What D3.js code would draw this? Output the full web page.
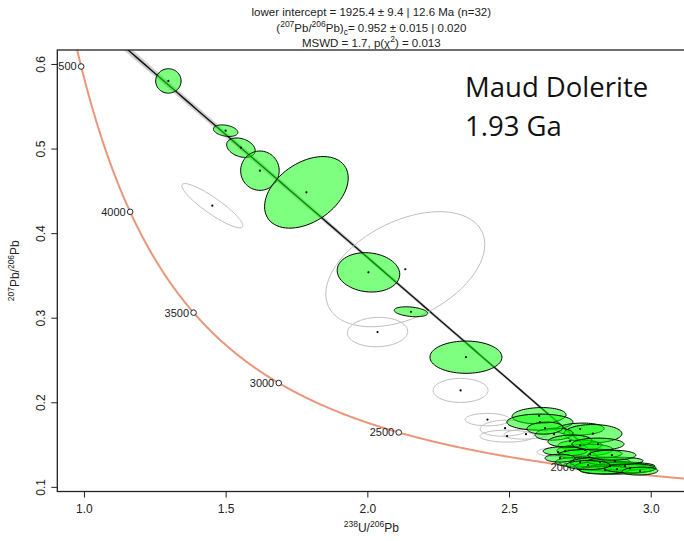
<!DOCTYPE html>
<html><head><meta charset="utf-8">
<script src="https://cdn.jsdelivr.net/npm/d3@7"></script>
<style>body{margin:0;background:#fff} svg{display:block}</style>
</head><body>
<svg id="chart" width="684" height="541"></svg>
<script>
// U-Pb analyses in Tera-Wasserburg space (1 sigma errors)
const u238pb206 = [1.298, 1.500, 1.554, 1.621, 1.785, 1.453, 2.134, 2.004, 2.154, 2.036, 2.348, 2.329,
  2.424, 2.486, 2.493, 2.560, 2.673,
  2.606, 2.609, 2.751, 2.796, 2.659, 2.751, 2.768, 2.698, 2.786, 2.751, 2.821, 2.856,
  2.881, 2.909, 2.839, 2.927, 2.715, 2.814, 2.874, 2.680, 2.627, 2.863, 2.962, 2.779];
const u238pb206Err = [0.0183, 0.0176, 0.0206, 0.0278, 0.0603, 0.0440, 0.1146, 0.0451, 0.0241, 0.0435, 0.0519, 0.0396,
  0.0324, 0.0360, 0.0389, 0.0317, 0.0303,
  0.0389, 0.0476, 0.0346, 0.0418, 0.0274, 0.0317, 0.0404, 0.0317, 0.0461, 0.0360, 0.0432, 0.0505,
  0.0548, 0.0432, 0.0360, 0.0375, 0.0317, 0.0375, 0.0404, 0.0216, 0.0259, 0.0346, 0.0259, 0.0317];
const pb207pb206 = [0.5799, 0.5211, 0.5010, 0.4738, 0.4482, 0.4324, 0.3573, 0.3536, 0.3070, 0.2830, 0.2533, 0.2140,
  0.1795, 0.1694, 0.1600, 0.1623, 0.1410,
  0.1842, 0.1765, 0.1683, 0.1629, 0.1623, 0.1493, 0.1434, 0.1422, 0.1387, 0.1292, 0.1292, 0.1245,
  0.1209, 0.1245, 0.1198, 0.1221, 0.1541, 0.1505, 0.1304, 0.1339, 0.1694, 0.1375, 0.1186, 0.1257];
const pb207pb206Err = [0.0059, 0.0028, 0.0047, 0.0095, 0.0173, 0.0107, 0.0278, 0.0095, 0.0024, 0.0071, 0.0078, 0.0058,
  0.0030, 0.0039, 0.0029, 0.0024, 0.0022,
  0.0039, 0.0039, 0.0029, 0.0044, 0.0029, 0.0024, 0.0029, 0.0022, 0.0024, 0.0024, 0.0024, 0.0024,
  0.0024, 0.0019, 0.0019, 0.0022, 0.0029, 0.0029, 0.0019, 0.0019, 0.0029, 0.0024, 0.0019, 0.0022];
const errCorr = [0.0, -0.3, -0.3, 0.0, 0.4, -0.9, 0.43, -0.1, -0.3, 0.05, 0.0, 0.0,
  0.0, 0.1, 0.0, 0.1, 0.0,
  0.1, 0.0, 0.1, 0.0, 0.1, 0.0, 0.1, 0.0, 0.1, 0.0, 0.1, 0.0,
  0.1, 0.0, 0.1, 0.0, 0.1, 0.0, 0.1, 0.0, 0.1, 0.0, 0.1, 0.0];
// 1 = used in the regression, 0 = omitted
const included = [1, 1, 1, 1, 1, 0, 0, 1, 1, 0, 1, 0,
  0, 0, 0, 0, 0,
  1, 1, 1, 1, 1, 1, 1, 1, 1, 1, 1, 1,
  1, 1, 1, 1, 1, 1, 1, 1, 1, 1, 1, 1];

const xTicks = [1.0, 1.5, 2.0, 2.5, 3.0];
const yTicks = [0.1, 0.2, 0.3, 0.4, 0.5, 0.6];
const ageMarks = [2000, 2500, 3000, 3500, 4000, 4500];

// regression results
const lowerInterceptAge = 1925.4, lowerInterceptErr = 9.4;
const commonPb = 0.952, commonPbErr = 0.015;

const xLim = [0.906, 3.122], yLim = [0.0945, 0.6165];

// decay constants (per Ma) and 238U/235U
const L238 = 1.55125e-4, L235 = 9.8485e-4, U85 = 137.818;
function tw(t) {
  const e8 = Math.exp(L238 * t) - 1, e5 = Math.exp(L235 * t) - 1;
  return [1 / e8, e5 / e8 / U85];
}

const svg = d3.select('#chart');
const box = {left: 57.3, right: 685.3, top: 50, bottom: 491.5};
const x = d3.scaleLinear().domain(xLim).range([box.left, box.right]);
const y = d3.scaleLinear().domain(yLim).range([box.bottom, box.top]);
const font = 'Liberation Sans, Arial, Helvetica, sans-serif';

svg.append('clipPath').attr('id', 'plotclip').append('rect')
  .attr('x', box.left).attr('y', box.top)
  .attr('width', box.right - box.left).attr('height', box.bottom - box.top);
const plot = svg.append('g').attr('clip-path', 'url(#plotclip)');

// discordia line from the common-Pb intercept down to the lower intercept
const [xL, yL] = tw(lowerInterceptAge);
const slope = (yL - commonPb) / xL;
const lineY = v => commonPb + slope * v;
// envelope: intercept error at x=0 and age error at the lower intercept
const t1 = tw(lowerInterceptAge + lowerInterceptErr / 2);
const sigL = Math.abs((t1[1] - yL) - slope * (t1[0] - xL));
const sig0 = commonPbErr / 2;
const halfW = v => Math.hypot(sig0 * (1 - v / xL), sigL * v / xL);
const xs = d3.range(0, 121).map(i => xLim[0] + (xL - xLim[0]) * i / 120);
const env = xs.map(v => [v, lineY(v) + halfW(v)]).concat(xs.slice().reverse().map(v => [v, lineY(v) - halfW(v)]));
plot.append('path').attr('d', d3.line().x(d => x(d[0])).y(d => y(d[1]))(env) + 'Z')
  .attr('fill', '#cfcfcf').attr('stroke', 'none');
plot.append('path').attr('d', d3.line().x(d => x(d)).y(d => y(lineY(d)))(xs))
  .attr('fill', 'none').attr('stroke', '#111').attr('stroke-width', 1.4);

// concordia curve
const ages = d3.range(1700, 4561, 5);
plot.append('path').attr('d', d3.line().x(t => x(tw(t)[0])).y(t => y(tw(t)[1]))(ages))
  .attr('fill', 'none').attr('stroke', '#e9967a').attr('stroke-width', 2);
ageMarks.forEach(t => {
  const [cx, cy] = tw(t);
  plot.append('circle').attr('cx', x(cx)).attr('cy', y(cy)).attr('r', 2.8)
    .attr('fill', '#fff').attr('stroke', '#222').attr('stroke-width', 1);
  plot.append('text').attr('x', x(cx) - 4.5).attr('y', y(cy)).attr('dy', '0.36em')
    .attr('text-anchor', 'end').attr('font-family', font).attr('font-size', 11)
    .attr('fill', '#222').text(t);
});

// error ellipses (95% confidence)
const k = Math.sqrt(-2 * Math.log(0.05));
const theta = d3.range(0, 73).map(i => i * 2 * Math.PI / 72);
const idx = d3.range(u238pb206.length);
const order = idx.filter(i => !included[i]).concat(idx.filter(i => included[i]));
order.forEach(i => {
  const sx = u238pb206Err[i], sy = pb207pb206Err[i], r = errCorr[i];
  const pts = theta.map(a => [
    u238pb206[i] + k * sx * Math.cos(a),
    pb207pb206[i] + k * sy * (r * Math.cos(a) + Math.sqrt(1 - r * r) * Math.sin(a))
  ]);
  plot.append('path').attr('d', d3.line().x(d => x(d[0])).y(d => y(d[1]))(pts) + 'Z')
    .attr('fill', included[i] ? 'rgba(0,255,0,0.5)' : 'none')
    .attr('stroke', included[i] ? '#000' : '#bebebe').attr('stroke-width', 1);
});
idx.forEach(i => {
  plot.append('circle').attr('cx', x(u238pb206[i])).attr('cy', y(pb207pb206[i])).attr('r', 1.1).attr('fill', '#000');
});

// frame and axes
svg.append('rect').attr('x', box.left).attr('y', box.top)
  .attr('width', box.right - box.left).attr('height', box.bottom - box.top)
  .attr('fill', 'none').attr('stroke', '#222').attr('stroke-width', 1.3);
const xAxis = svg.append('g').attr('transform', `translate(0,${box.bottom})`)
  .call(d3.axisBottom(x).tickValues(xTicks).tickFormat(d3.format('.1f')).tickSize(6).tickPadding(7));
const yAxis = svg.append('g').attr('transform', `translate(${box.left},0)`)
  .call(d3.axisLeft(y).tickValues(yTicks).tickFormat(d3.format('.1f')).tickSize(6).tickPadding(7));
[xAxis, yAxis].forEach(g => {
  g.select('.domain').remove();
  g.selectAll('line').attr('stroke', '#222');
  g.selectAll('text').attr('font-family', font).attr('font-size', 12).attr('fill', '#222');
});
yAxis.selectAll('.tick text').attr('transform', 'rotate(-90)').attr('text-anchor', 'middle')
  .attr('x', 0).attr('y', -12).attr('dy', 0);

function ratioLabel(sel, top, topSup, bot, botSup) {
  sel.append('tspan').attr('font-size', 8.5).attr('dy', -5).text(topSup);
  sel.append('tspan').attr('dy', 5).text(top + '/');
  sel.append('tspan').attr('font-size', 8.5).attr('dy', -5).text(botSup);
  sel.append('tspan').attr('dy', 5).text(bot);
}
const xt = svg.append('text').attr('x', (box.left + box.right) / 2).attr('y', 532)
  .attr('text-anchor', 'middle').attr('font-family', font).attr('font-size', 12).attr('fill', '#222');
ratioLabel(xt, 'U', '238', 'Pb', '206');
const yt = svg.append('text').attr('transform', `translate(19,${(box.top + box.bottom) / 2}) rotate(-90)`)
  .attr('text-anchor', 'middle').attr('font-family', font).attr('font-size', 12).attr('fill', '#222');
ratioLabel(yt, 'Pb', '207', 'Pb', '206');

// title
const cx0 = (box.left + box.right) / 2;
const title = svg.append('g').attr('font-family', font).attr('font-size', 11.5).attr('fill', '#222').attr('text-anchor', 'middle');
title.append('text').attr('x', cx0).attr('y', 16)
  .text(`lower intercept = ${lowerInterceptAge} ± ${lowerInterceptErr} | 12.6 Ma (n=32)`);
const t2 = title.append('text').attr('x', cx0).attr('y', 31.5);
t2.append('tspan').text('(');
t2.append('tspan').attr('font-size', 8.5).attr('dy', -5).text('207');
t2.append('tspan').attr('dy', 5).text('Pb/');
t2.append('tspan').attr('font-size', 8.5).attr('dy', -5).text('206');
t2.append('tspan').attr('dy', 5).text('Pb)');
t2.append('tspan').attr('font-size', 8.5).attr('dy', 3).text('c');
t2.append('tspan').attr('dy', -3).text(`= ${commonPb} ± ${commonPbErr} | 0.020`);
const t3 = title.append('text').attr('x', cx0).attr('y', 47);
t3.append('tspan').text('MSWD = 1.7, p(χ');
t3.append('tspan').attr('font-size', 8.5).attr('dy', -5).text('2');
t3.append('tspan').attr('dy', 5).text(') = 0.013');

// sample annotation
const note = svg.append('g').attr('font-family', 'Open Sans, Lato, sans-serif').attr('font-size', 27.5).attr('fill', '#111');
note.append('text').attr('x', 465).attr('y', 97).text('Maud Dolerite');
note.append('text').attr('x', 465).attr('y', 136).text('1.93 Ga');
</script>
</body></html>
